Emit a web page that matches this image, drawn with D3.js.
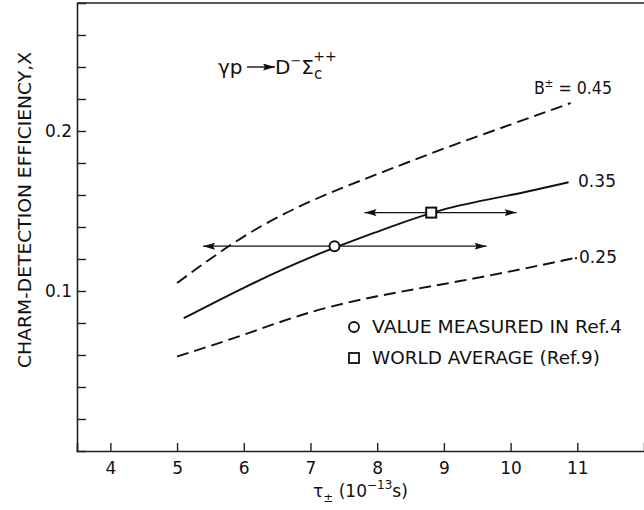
<!DOCTYPE html>
<html>
<head>
<meta charset="utf-8">
<script src="https://cdn.jsdelivr.net/npm/d3@7"></script>
<style>
  html, body { margin: 0; padding: 0; background: #fff; }
  svg { display: block; }
  text { font-family: "DejaVu Sans", "Liberation Sans", sans-serif; fill: #111; }
</style>
</head>
<body>
<svg id="chart" width="644" height="510"></svg>
<script>
// ---- data ----
const xTicks = [4, 5, 6, 7, 8, 9, 10, 11];
const yTicks = [0.02, 0.04, 0.06, 0.08, 0.10, 0.12, 0.14, 0.16, 0.18, 0.20, 0.22, 0.24, 0.26];
const yTickLabels = {"0.1": "0.1", "0.2": "0.2"};

const tauUpper = [5, 6, 7, 8, 9, 10, 10.9];
const effUpper = [0.105, 0.134, 0.156, 0.173, 0.189, 0.204, 0.2175];   // B = 0.45

const tauMid = [5.1, 6, 7, 8, 9, 10, 10.87];
const effMid = [0.083, 0.102, 0.121, 0.137, 0.151, 0.160, 0.168];       // B = 0.35

const tauLower = [5, 6, 7, 8, 9, 10, 10.95];
const effLower = [0.059, 0.0727, 0.0867, 0.0967, 0.1044, 0.1123, 0.1205]; // B = 0.25

const curveLabels = ["B\u00B1 = 0.45", "0.35", "0.25"];

// measurements: central tau, efficiency, tau range
const measNames = ["VALUE MEASURED IN Ref.4", "WORLD AVERAGE (Ref.9)"];
const measTau = [7.36, 8.81];
const measEff = [0.128, 0.149];
const measLo = [5.39, 7.81];
const measHi = [9.64, 10.09];

// ---- drawing ----
const svg = d3.select("#chart");
const x = d3.scaleLinear().domain([3.5, 12]).range([77, 644]);
const y = d3.scaleLinear().domain([0, 0.28]).range([451, 3]);

const defs = svg.append("defs");
defs.append("marker").attr("id", "ah")
  .attr("viewBox", "0 0 12 7").attr("refX", 12).attr("refY", 3.5)
  .attr("markerWidth", 12).attr("markerHeight", 7).attr("markerUnits", "userSpaceOnUse")
  .attr("orient", "auto")
  .append("path").attr("d", "M0,0 L12,3.5 L0,7 L2,3.5 Z").attr("fill", "#111");

// frame
svg.append("line").attr("x1", x(3.5)).attr("x2", x(12)).attr("y1", y(0.28)).attr("y2", y(0.28))
  .attr("stroke", "#222").attr("stroke-width", 1.6);

// axes
const xAxis = d3.axisBottom(x).tickValues(xTicks).tickSize(-8).tickPadding(11).tickFormat(d3.format("d"));
const gx = svg.append("g").attr("transform", `translate(0,${y(0)})`).call(xAxis);
gx.select(".domain").attr("stroke", "#222").attr("stroke-width", 1.6);
gx.selectAll(".tick line").attr("stroke", "#222").attr("stroke-width", 1.4);
gx.selectAll("text").style("font-size", "17px").attr("fill", "#111");

const yAxis = d3.axisLeft(y).tickValues(yTicks).tickSize(-9).tickPadding(5)
  .tickFormat(d => yTickLabels[String(+d.toFixed(2))] || "");
const gy = svg.append("g").attr("transform", `translate(${x(3.5)},0)`).call(yAxis);
gy.select(".domain").attr("stroke", "#222").attr("stroke-width", 1.6);
gy.selectAll(".tick line").attr("stroke", "#222").attr("stroke-width", 1.4);
gy.selectAll("text").style("font-size", "17px").attr("fill", "#111");

// curves
const line = d3.line().x(d => x(d[0])).y(d => y(d[1])).curve(d3.curveNatural);
const series = [
  {t: tauUpper, v: effUpper, dash: "12,6"},
  {t: tauMid, v: effMid, dash: null},
  {t: tauLower, v: effLower, dash: "12,6"}
];
series.forEach(s => {
  svg.append("path").datum(s.t.map((t, i) => [t, s.v[i]]))
    .attr("d", line).attr("fill", "none").attr("stroke", "#111")
    .attr("stroke-width", 1.9).attr("stroke-dasharray", s.dash);
});

// curve labels
svg.append("text").attr("x", 534).attr("y", 94).style("font-size", "17px")
  .attr("textLength", 78).attr("lengthAdjust", "spacingAndGlyphs")
  .html('B<tspan dy="-7" font-size="11px">\u00B1</tspan><tspan dy="7"> = 0.45</tspan>');
svg.append("text").attr("x", 578).attr("y", 187).style("font-size", "17px")
  .attr("textLength", 38).text(curveLabels[1]);
svg.append("text").attr("x", 579).attr("y", 263).style("font-size", "17px")
  .attr("textLength", 38).text(curveLabels[2]);
// small connecting dash before 0.25
svg.append("line").attr("x1", x(tauLower[tauLower.length - 1]) + 1).attr("x2", 577)
  .attr("y1", y(effLower[effLower.length - 1])).attr("y2", y(effLower[effLower.length - 1]))
  .attr("stroke", "#111").attr("stroke-width", 1.9);

// error bars with arrows
measTau.forEach((t, i) => {
  svg.append("line").attr("x1", x(t)).attr("x2", x(measLo[i]))
    .attr("y1", y(measEff[i])).attr("y2", y(measEff[i]))
    .attr("stroke", "#111").attr("stroke-width", 1.3).attr("marker-end", "url(#ah)");
  svg.append("line").attr("x1", x(t)).attr("x2", x(measHi[i]))
    .attr("y1", y(measEff[i])).attr("y2", y(measEff[i]))
    .attr("stroke", "#111").attr("stroke-width", 1.3).attr("marker-end", "url(#ah)");
});
svg.append("circle").attr("cx", x(measTau[0])).attr("cy", y(measEff[0])).attr("r", 5)
  .attr("fill", "#fff").attr("stroke", "#111").attr("stroke-width", 2);
svg.append("rect").attr("x", x(measTau[1]) - 5).attr("y", y(measEff[1]) - 5)
  .attr("width", 10).attr("height", 10)
  .attr("fill", "#fff").attr("stroke", "#111").attr("stroke-width", 2);

// legend
svg.append("circle").attr("cx", 354).attr("cy", 327).attr("r", 5)
  .attr("fill", "#fff").attr("stroke", "#111").attr("stroke-width", 1.8);
svg.append("text").attr("x", 372).attr("y", 333).style("font-size", "17px")
  .attr("textLength", 250).attr("lengthAdjust", "spacingAndGlyphs").text(measNames[0]);
svg.append("rect").attr("x", 349).attr("y", 353).attr("width", 10).attr("height", 10)
  .attr("fill", "#fff").attr("stroke", "#111").attr("stroke-width", 1.8);
svg.append("text").attr("x", 372).attr("y", 364).style("font-size", "17px")
  .attr("textLength", 228).attr("lengthAdjust", "spacingAndGlyphs").text(measNames[1]);

// reaction annotation
const ann = svg.append("g");
ann.append("text").attr("x", 218).attr("y", 74).style("font-size", "20px").text("\u03B3p");
ann.append("line").attr("x1", 247).attr("x2", 275).attr("y1", 67).attr("y2", 67)
  .attr("stroke", "#111").attr("stroke-width", 1.4).attr("marker-end", "url(#ah)");
ann.append("text").attr("x", 275).attr("y", 74).style("font-size", "20px")
  .html('D<tspan dy="-9" font-size="13px">\u2212</tspan><tspan dy="9">\u03A3</tspan><tspan dy="5" font-size="15px">c</tspan><tspan dx="-9" dy="-18" font-size="14px">++</tspan>');

// axis titles
svg.append("text").attr("x", 313).attr("y", 497).style("font-size", "17px")
  .html('\u03C4<tspan dy="5" font-size="12px">\u00B1</tspan><tspan dy="-5"> (10</tspan><tspan dy="-8" font-size="12px">\u221213</tspan><tspan dy="8">s)</tspan>');

svg.append("text").attr("transform", "translate(31,210) rotate(-90)")
  .attr("text-anchor", "middle").style("font-size", "17px")
  .attr("textLength", 316).attr("lengthAdjust", "spacingAndGlyphs")
  .text("CHARM-DETECTION EFFICIENCY,X");
</script>
</body>
</html>
